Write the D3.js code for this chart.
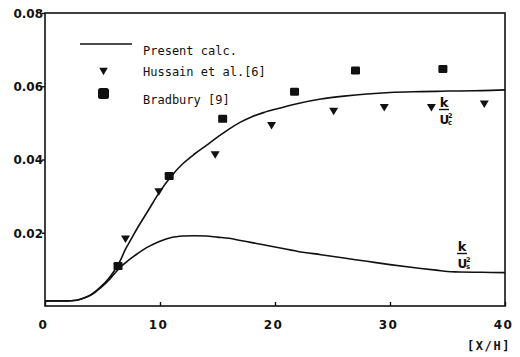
<!DOCTYPE html>
<html>
<head>
<meta charset="utf-8">
<script src="https://cdn.jsdelivr.net/npm/d3@7"></script>
<style>
  html, body { margin: 0; padding: 0; background: #fff; }
  svg { display: block; }
</style>
</head>
<body>
<svg id="chart" width="520" height="357"></svg>
<script>
// Streamwise distance [x/H]
const xCalc = [0, 1, 2, 2.5, 3, 3.5, 4, 4.5, 5, 5.5, 6, 6.5, 7, 7.5, 8, 9, 10, 11, 12, 13, 14, 15, 16, 17, 18, 19, 20, 22, 24, 26, 28, 30, 32, 34, 35, 36, 38, 40];
// Present calculation, k normalised by centreline velocity
const kUc = [0.0014, 0.0014, 0.0014, 0.0015, 0.0018, 0.0023, 0.0031, 0.0043, 0.0057, 0.0074, 0.0095, 0.0121, 0.0155, 0.0183, 0.0211, 0.0262, 0.0313, 0.0355, 0.0389, 0.0415, 0.0438, 0.0461, 0.0483, 0.0502, 0.0517, 0.0528, 0.0537, 0.0553, 0.0565, 0.0573, 0.0579, 0.0583, 0.0585, 0.0586, 0.0587, 0.0587, 0.0588, 0.0590];
// Present calculation, k normalised by U_s
const kUs = [0.0014, 0.0014, 0.0014, 0.0015, 0.0018, 0.0023, 0.0030, 0.0041, 0.0054, 0.0069, 0.0087, 0.0104, 0.0118, 0.0131, 0.0142, 0.0162, 0.0177, 0.0187, 0.0191, 0.0192, 0.0191, 0.0188, 0.0185, 0.0179, 0.0173, 0.0167, 0.0161, 0.0149, 0.0140, 0.0131, 0.0122, 0.0113, 0.0105, 0.0098, 0.0094, 0.0093, 0.0092, 0.0091];

// Measurements
const hussainX = [7.0, 9.9, 14.8, 19.7, 25.1, 29.5, 33.6, 38.2];
const hussainK = [0.0182, 0.0311, 0.0412, 0.0492, 0.0531, 0.0541, 0.0541, 0.0551];
const bradburyX = [6.35, 10.8, 15.45, 21.7, 27.0, 34.6];
const bradburyK = [0.0109, 0.0355, 0.0511, 0.0585, 0.0643, 0.0647];

// Axis ticks
const xTicks = [0, 10, 20, 30, 40];
const yTicks = [0.02, 0.04, 0.06, 0.08];
const xLabel = "[X/H]";
const legendLabels = ["Present calc.", "Hussain et al.[6]", "Bradbury [9]"];

const svg = d3.select("#chart");
const x = d3.scaleLinear().domain([0, 40]).range([45, 505]);
const y = d3.scaleLinear().domain([0, 0.08]).range([306, 13]);

const ink = "#111";
const tickFont = "'DejaVu Sans', sans-serif";

// Frame
svg.append("rect")
  .attr("x", x(0)).attr("y", y(0.08))
  .attr("width", x(40) - x(0)).attr("height", y(0) - y(0.08))
  .attr("fill", "none").attr("stroke", ink).attr("stroke-width", 1.6);

// Y axis
const yAxis = svg.append("g")
  .attr("transform", `translate(${x(0)},0)`)
  .call(d3.axisLeft(y).tickValues(yTicks).tickSize(3).tickFormat(d3.format(".2f")));
yAxis.select(".domain").remove();
yAxis.selectAll(".tick line").attr("stroke", ink).attr("stroke-width", 1.4);
yAxis.selectAll(".tick text")
  .attr("x", -2).attr("dy", "0.36em")
  .attr("font-family", tickFont).attr("font-weight", "bold").attr("font-size", 12)
  .attr("fill", ink);

// X axis (ticks point inward)
const xAxis = svg.append("g")
  .attr("transform", `translate(0,${y(0)})`)
  .call(d3.axisBottom(x).tickValues(xTicks).tickSize(-4).tickFormat(d3.format("d")));
xAxis.select(".domain").remove();
xAxis.selectAll(".tick line").attr("stroke", ink).attr("stroke-width", 1.4);
xAxis.selectAll(".tick text")
  .attr("y", 23).attr("dy", null).attr("dx", -2)
  .attr("font-family", tickFont).attr("font-weight", "bold").attr("font-size", 12)
  .attr("letter-spacing", 1.5)
  .attr("fill", ink);

svg.append("text")
  .attr("x", 489).attr("y", 350)
  .attr("text-anchor", "middle")
  .attr("font-family", "'DejaVu Sans Mono', monospace").attr("font-weight", "bold")
  .attr("font-size", 12).attr("letter-spacing", 1.6)
  .attr("fill", ink)
  .text(xLabel);

// Calculated curves
const line = d3.line()
  .x(d => x(d[0])).y(d => y(d[1]))
  .curve(d3.curveCatmullRom.alpha(0.5));

[kUc, kUs].forEach(series => {
  svg.append("path")
    .datum(xCalc.map((v, i) => [v, series[i]]))
    .attr("d", line)
    .attr("fill", "none").attr("stroke", ink).attr("stroke-width", 1.6)
    .attr("stroke-linejoin", "round");
});

// Marker shapes
const tri = (cx, cy, w, h) => `M${cx - w / 2},${cy - h / 2}L${cx + w / 2},${cy - h / 2}L${cx},${cy + h / 2}Z`;

svg.append("g").selectAll("path")
  .data(hussainX.map((v, i) => [v, hussainK[i]]))
  .join("path")
  .attr("d", d => tri(x(d[0]), y(d[1]), 9, 7.5))
  .attr("fill", ink);

svg.append("g").selectAll("rect")
  .data(bradburyX.map((v, i) => [v, bradburyK[i]]))
  .join("rect")
  .attr("x", d => x(d[0]) - 4.5).attr("y", d => y(d[1]) - 4)
  .attr("width", 9).attr("height", 8).attr("rx", 1.2)
  .attr("fill", ink);

// Legend
const legendFont = "'DejaVu Sans Mono', monospace";
const lg = svg.append("g");
lg.append("line").attr("x1", 80).attr("x2", 132).attr("y1", 44).attr("y2", 44)
  .attr("stroke", ink).attr("stroke-width", 1.6);
lg.append("path").attr("d", tri(103.5, 71.5, 8.5, 7.5)).attr("fill", ink);
lg.append("rect").attr("x", 98).attr("y", 88).attr("width", 11).attr("height", 11)
  .attr("rx", 2.5).attr("fill", ink);
const legendY = [55, 76, 104];
legendLabels.forEach((t, i) => {
  lg.append("text")
    .attr("x", 143).attr("y", legendY[i])
    .attr("font-family", legendFont).attr("font-size", 12)
    .attr("fill", ink)
    .text(t);
});

// Curve labels: k / U_c^2 and k / U_s^2
function fracLabel(cx, top, sub) {
  const g = svg.append("g").attr("font-family", tickFont).attr("font-weight", "bold").attr("fill", ink);
  g.append("text").attr("x", cx).attr("y", top + 10).attr("text-anchor", "middle")
    .attr("font-size", 13).text("k");
  g.append("line").attr("x1", cx - 5).attr("x2", cx + 5)
    .attr("y1", top + 12.5).attr("y2", top + 12.5)
    .attr("stroke", ink).attr("stroke-width", 1.4);
  g.append("text").attr("x", cx - 4.5).attr("y", top + 27)
    .attr("font-size", 12).text("U");
  g.append("text").attr("x", cx + 4).attr("y", top + 20.5)
    .attr("font-size", 6.5).text("2");
  g.append("text").attr("x", cx + 4).attr("y", top + 28)
    .attr("font-size", 7).text(sub);
}
fracLabel(444, 97, "c");
fracLabel(462, 241, "s");
</script>
</body>
</html>
